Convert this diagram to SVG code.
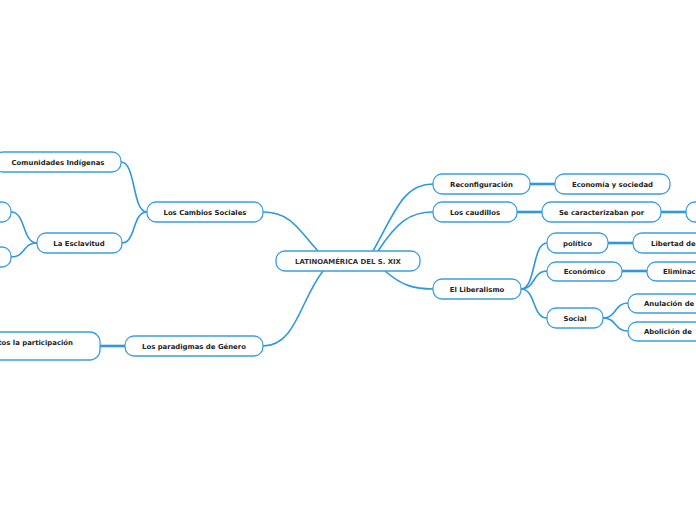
<svg xmlns="http://www.w3.org/2000/svg" width="696" height="520" viewBox="0 0 696 520">
<style>
.n{fill:#fff;stroke:#3d9fe0;stroke-width:1.3}
.t{font-family:"DejaVu Sans",Verdana,sans-serif;font-weight:bold;font-size:6.9px;fill:#222;text-anchor:middle}
.c{fill:none;stroke:#2f98dd;stroke-width:1.6}
.s{fill:none;stroke:#2f98dd;stroke-width:2.6}
</style>
<rect width="696" height="520" fill="#fff"/>
<g id="connectors">
<path class="c" d="M263,212 C292,212 300,232 318,251"/>
<path class="c" d="M263,346 C296,346 300,300 323,271"/>
<path class="c" d="M373,251 C395,212 403,184 433,184"/>
<path class="c" d="M378,251 C397,222 410,212 433,212"/>
<path class="c" d="M385,271 C402,286 415,289 433,289"/>
<path class="c" d="M147,212 C132,212 136,162 121,162"/>
<path class="c" d="M147,212 C132,212 136,243 122,243"/>
<path class="c" d="M37,243 C22,243 26,212 11,212"/>
<path class="c" d="M37,243 C22,243 26,257 11,257"/>
<path class="c" d="M521,289 C536,289 532,243 547,243"/>
<path class="c" d="M521,289 C536,289 532,271 547,271"/>
<path class="c" d="M521,289 C536,289 532,318 547,318"/>
<path class="c" d="M603,318 C617,318 614,303 628,303"/>
<path class="c" d="M603,318 C617,318 614,331 628,331"/>
<path class="s" d="M100,346 H125"/>
<path class="s" d="M530,184 H555"/>
<path class="s" d="M517,212 H542"/>
<path class="s" d="M661,212 H686"/>
<path class="s" d="M608,243 H633"/>
<path class="s" d="M622,271 H647"/>
</g>
<g id="root"><rect class="n" x="276" y="251" width="144" height="20" rx="9"/><text class="t" x="348" y="263.5" style="fill:#333">LATINOAMÉRICA DEL S. XIX</text></g>
<g id="cambios"><rect class="n" x="147" y="202" width="116" height="20" rx="9"/><text class="t" x="205" y="214.5">Los Cambios Sociales</text></g>
<g id="comunidades"><rect class="n" x="-6" y="152" width="127" height="20" rx="9"/><text class="t" x="58" y="164.5">Comunidades Indígenas</text></g>
<g id="esclavitud"><rect class="n" x="37" y="233" width="85" height="20" rx="9"/><text class="t" x="79" y="245.5">La Esclavitud</text></g>
<g id="esc1"><rect class="n" x="-40" y="202" width="51" height="20" rx="9"/></g>
<g id="esc2"><rect class="n" x="-40" y="247" width="51" height="20" rx="9"/></g>
<g id="paradigmas"><rect class="n" x="125" y="336" width="138" height="20" rx="9"/><text class="t" x="194" y="348.5">Los paradigmas de Género</text></g>
<g id="participacion"><rect class="n" x="-100" y="332" width="200" height="28" rx="10"/><text class="t" x="73" y="345" style="text-anchor:end">tos la participación</text></g>
<g id="reconfiguracion"><rect class="n" x="433" y="174" width="97" height="20" rx="9"/><text class="t" x="481.5" y="186.5">Reconfiguración</text></g>
<g id="economia"><rect class="n" x="555" y="174" width="115" height="20" rx="9"/><text class="t" x="612.5" y="186.5">Economía y sociedad</text></g>
<g id="caudillos"><rect class="n" x="433" y="202" width="84" height="20" rx="9"/><text class="t" x="475" y="214.5">Los caudillos</text></g>
<g id="caracterizaban"><rect class="n" x="542" y="202" width="119" height="20" rx="9"/><text class="t" x="601.5" y="214.5">Se caracterizaban por</text></g>
<g id="carac-next"><rect class="n" x="686" y="202" width="60" height="20" rx="9"/></g>
<g id="liberalismo"><rect class="n" x="433" y="279" width="88" height="20" rx="9"/><text class="t" x="477" y="291.5">El Liberalismo</text></g>
<g id="politico"><rect class="n" x="547" y="233" width="61" height="20" rx="9"/><text class="t" x="577.5" y="245.5">político</text></g>
<g id="libertad"><rect class="n" x="633" y="233" width="100" height="20" rx="9"/><text class="t" x="651" y="245.5" style="text-anchor:start">Libertad de</text></g>
<g id="economico"><rect class="n" x="547" y="262" width="75" height="19" rx="9"/><text class="t" x="584.5" y="274">Económico</text></g>
<g id="eliminac"><rect class="n" x="647" y="262" width="100" height="19" rx="9"/><text class="t" x="663" y="274" style="text-anchor:start">Eliminac</text></g>
<g id="social"><rect class="n" x="547" y="308" width="56" height="20" rx="9"/><text class="t" x="575" y="320.5">Social</text></g>
<g id="anulacion"><rect class="n" x="628" y="294" width="100" height="19" rx="9"/><text class="t" x="644" y="306" style="text-anchor:start">Anulación de</text></g>
<g id="abolicion"><rect class="n" x="628" y="322" width="100" height="19" rx="9"/><text class="t" x="644" y="334" style="text-anchor:start">Abolición de</text></g>
</svg>
